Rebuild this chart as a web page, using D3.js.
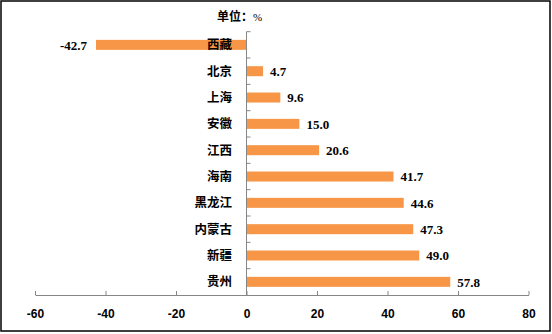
<!DOCTYPE html>
<html>
<head>
<meta charset="utf-8">
<script src="https://cdn.jsdelivr.net/npm/d3@7"></script>
<style>
  html, body { margin: 0; padding: 0; background: #fff; }
  svg { display: block; }
</style>
</head>
<body>
<svg id="chart" width="552" height="334"></svg>
<script>
// Regions, top to bottom, and their growth rates (%)
const regions = ["西藏", "北京", "上海", "安徽", "江西", "海南", "黑龙江", "内蒙古", "新疆", "贵州"];
const growth = [-42.7, 4.7, 9.6, 15.0, 20.6, 41.7, 44.6, 47.3, 49.0, 57.8];
const xTicks = [-60, -40, -20, 0, 20, 40, 60, 80];
const unitLabel = "单位：";
const unitSymbol = "%";

// number formatting with a plain hyphen for negatives
const locale = d3.formatLocale({ decimal: ".", thousands: ",", grouping: [3], currency: ["", ""], minus: "-" });
const fmtInt = locale.format("d");
const fmtOne = locale.format(".1f");

const svg = d3.select("#chart");

// outer frame
svg.append("rect")
  .attr("x", 1).attr("y", 1)
  .attr("width", 549).attr("height", 330)
  .attr("fill", "#fff")
  .attr("stroke", "#000")
  .attr("stroke-width", 1.5);

const x = d3.scaleLinear().domain([-60, 80]).range([35, 528.5]);
const y = d3.scaleBand().domain(regions).range([31.7, 295]);
const barH = 10;

const data = regions.map((r, i) => ({ region: r, value: growth[i] }));

// bars
svg.append("g").selectAll("rect")
  .data(data)
  .join("rect")
  .attr("x", d => x(Math.min(0, d.value)))
  .attr("width", d => Math.abs(x(d.value) - x(0)))
  .attr("y", d => y(d.region) + y.bandwidth() / 2 - barH / 2)
  .attr("height", barH)
  .attr("fill", "#F79646");

// horizontal axis: inward ticks, labels below
const xAxis = d3.axisBottom(x).tickValues(xTicks).tickSize(0).tickFormat(fmtInt);
const gx = svg.append("g").attr("transform", `translate(0,${y.range()[1]})`).call(xAxis);
gx.select(".domain").attr("stroke", "#868686").attr("stroke-width", 1);
gx.selectAll(".tick text")
  .attr("y", 19)
  .attr("dy", "0.35em")
  .attr("fill", "#000")
  .style("font-family", "'Liberation Sans', Arial, sans-serif")
  .style("font-size", "12px")
  .style("font-weight", "bold");
gx.selectAll(".tick").append("line")
  .attr("y1", 0).attr("y2", -4)
  .attr("stroke", "#868686");

// vertical axis at zero with ticks between categories
const zeroX = x(0);
const gy = svg.append("g");
gy.append("line")
  .attr("x1", zeroX).attr("x2", zeroX)
  .attr("y1", y.range()[0]).attr("y2", y.range()[1])
  .attr("stroke", "#868686");
const boundaries = regions.map(r => y(r));
gy.selectAll("line.cat")
  .data(boundaries)
  .join("line")
  .attr("class", "cat")
  .attr("x1", zeroX).attr("x2", zeroX + 4)
  .attr("y1", d => d).attr("y2", d => d)
  .attr("stroke", "#868686");

// category labels, right-aligned left of the zero line
svg.append("g").selectAll("text")
  .data(data)
  .join("text")
  .attr("x", zeroX - 14.5)
  .attr("y", d => y(d.region) + y.bandwidth() / 2)
  .attr("dy", "0.36em")
  .attr("text-anchor", "end")
  .style("font-family", "'Noto Sans CJK SC', sans-serif")
  .style("font-size", "12.5px")
  .style("font-weight", "bold")
  .attr("fill", "#000")
  .text(d => d.region);

// value labels at bar ends
svg.append("g").selectAll("text")
  .data(data)
  .join("text")
  .attr("x", d => d.value < 0 ? x(d.value) - 9 : x(d.value) + 7)
  .attr("y", d => y(d.region) + y.bandwidth() / 2)
  .attr("dy", "0.36em")
  .attr("text-anchor", d => d.value < 0 ? "end" : "start")
  .style("font-family", "'Liberation Serif', 'Times New Roman', serif")
  .style("font-size", "13px")
  .style("font-weight", "bold")
  .attr("fill", "#000")
  .text(d => fmtOne(d.value));

// unit note
const unit = svg.append("text")
  .attr("x", 217)
  .attr("y", 15)
  .attr("dy", "0.36em")
  .attr("fill", "#000");
unit.append("tspan")
  .style("font-family", "'Noto Sans CJK SC', sans-serif")
  .style("font-size", "12px")
  .style("font-weight", "bold")
  .text(unitLabel);
unit.append("tspan")
  .style("font-family", "'Liberation Serif', serif")
  .style("font-size", "11px")
  .text(unitSymbol);
</script>
</body>
</html>
